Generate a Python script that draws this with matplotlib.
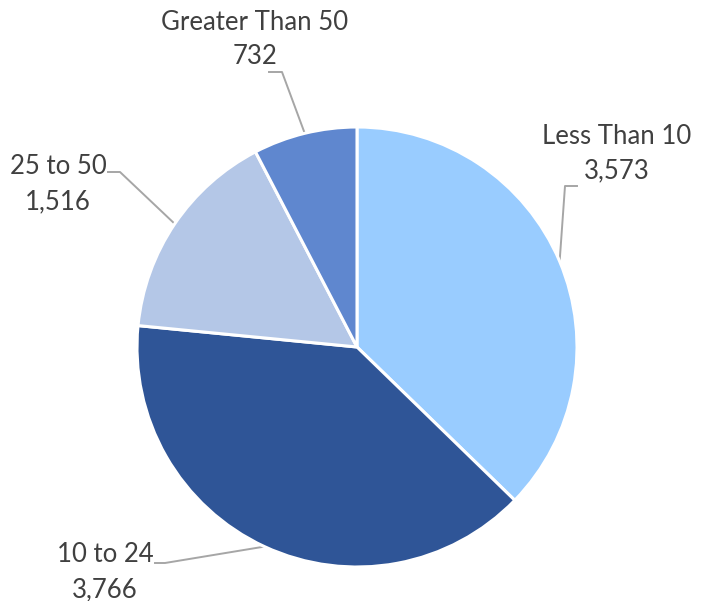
import matplotlib.pyplot as plt
import numpy as np

labels = ["Less Than 10", "10 to 24", "25 to 50", "Greater Than 50"]
values = [3573, 3766, 1516, 732]
colors = ["#99CCFF", "#2F5597", "#B4C7E7", "#5F87CF"]

# label text centre (first line) and elbow of leader, in pixels
W, H = 702, 601
CX, CY, R = 357, 347, 220
label_pos = {
    "Less Than 10": (617, 136),
    "10 to 24": (105, 555),
    "25 to 50": (58, 167),
    "Greater Than 50": (255, 22),
}
elbows = {
    "Less Than 10": ((565, 186), (577, 186)),
    "10 to 24": ((165, 563), (155, 563)),
    "25 to 50": ((120, 172), (108, 172)),
    "Greater Than 50": ((282, 72), (269, 72)),
}


def px(p):
    return ((p[0] - CX) / R, (CY - p[1]) / R)


plt.rcParams["font.family"] = ["Lato", "DejaVu Sans"]

fig = plt.figure(figsize=(W / 100, H / 100), dpi=100)
ax = fig.add_axes([(CX - R) / W, (H - CY - R) / H, 2 * R / W, 2 * R / H])

wedges, _ = ax.pie(values, colors=colors, startangle=90, counterclock=False,
                   radius=1.0, wedgeprops=dict(edgecolor="white", linewidth=2.2))
ax.set_xlim(-1, 1)
ax.set_ylim(-1, 1)
ax.set_aspect("equal")
ax.axis("off")

for w, name, v in zip(wedges, labels, values):
    mid = np.deg2rad((w.theta1 + w.theta2) / 2)
    x0, y0 = np.cos(mid), np.sin(mid)
    pts = [(x0, y0)] + [px(p) for p in elbows[name]]
    xs, ys = zip(*pts)
    ax.plot(xs, ys, color="#A6A6A6", lw=1.4, clip_on=False, zorder=0)
    tx, ty = label_pos[name]
    fig.text(tx / W, 1 - ty / H, name, ha="center", va="center",
             fontsize=18.5, color="#404040")
    fig.text(tx / W, 1 - (ty + 35) / H, f"{v:,}", ha="center", va="center",
             fontsize=18.5, color="#404040")

fig.savefig("out.png", dpi=100)
